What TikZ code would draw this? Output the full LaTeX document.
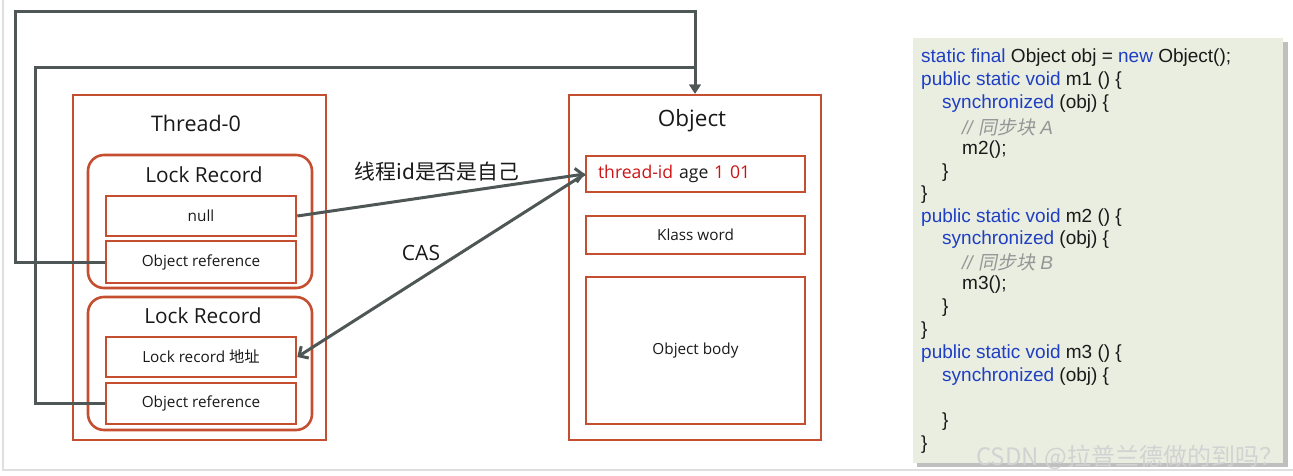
\documentclass[tikz,border=0pt]{standalone}
\usepackage{fontspec}
\setmainfont{Open Sans}
\newfontfamily\cjkfont{Noto Sans CJK SC}
\newfontfamily\cjkslant[FakeSlant=0.2]{Noto Sans CJK SC}
\newfontfamily\codefont{Liberation Sans}
\usetikzlibrary{arrows.meta,positioning}
\definecolor{boxRed}{RGB}{197,78,48}
\definecolor{lineGray}{RGB}{78,86,86}
\definecolor{codeBg}{RGB}{234,238,224}
\definecolor{codeBlue}{RGB}{30,62,196}
\definecolor{codeGray}{RGB}{150,150,150}
\definecolor{idRed}{RGB}{204,20,20}
\definecolor{txtDark}{RGB}{25,25,25}

\tikzset{
  outerbox/.style={draw=boxRed, line width=2.6pt, inner sep=0pt},
  recbox/.style={outerbox, rounded corners=16pt, minimum width=224pt, minimum height=133pt},
  fieldbox/.style={outerbox, minimum width=190pt, minimum height=40pt,
    font=\fontsize{15.3}{17}\selectfont, text=txtDark},
  wordbox/.style={outerbox, minimum width=219pt},
  title/.style={font=\fontsize{20.8}{24}\selectfont, text=txtDark},
  link/.style={draw=lineGray, line width=3pt},
  codeline/.style={anchor=west, inner sep=0pt, font=\codefont\fontsize{19}{22}\selectfont, text=txtDark},
}
\newcommand{\kw}[1]{\textcolor{codeBlue}{#1}}
\newcommand{\cmt}[1]{\textcolor{codeGray}{\itshape #1}}

\begin{document}
\begin{tikzpicture}[x=1pt,y=-1pt]
    \useasboundingbox (0,0) rectangle (1293,476);
    % screenshot frame
    \draw[gray!25, line width=2pt] (3,0) -- (3,470) -- (1293,470);

    % thread side
    \node[outerbox, minimum width=253pt, minimum height=345pt] (thread) at (199.5,267.5) {};
    \node[title, font=\fontsize{21.5}{24}\selectfont] (threadTitle) at (196,123) {Thread-0};

    \node[recbox] (lr1) at (200,221.5) {};
    \node[title] (lr1Title) at (204,175) {Lock Record};
    \node[fieldbox] (null) at (201,216) {null};
    \node[fieldbox, minimum height=42pt] (ref1) at (201,262) {Object reference};

    \node[recbox] (lr2) at (200,363.5) {};
    \node[title] (lr2Title) at (203,316) {Lock Record};
    \node[fieldbox] (addr) at (201,357) {Lock record {\cjkfont 地址}};
    \node[fieldbox, minimum height=41pt] (ref2) at (201,403.5) {Object reference};

    % object side
    \node[outerbox, minimum width=252pt, minimum height=345pt] (object) at (695,267.5) {};
    \node[title, font=\fontsize{22.5}{24}\selectfont] (objTitle) at (692,121) {Object};
    \node[wordbox, minimum height=36pt, text width=195pt, align=left,
          font=\fontsize{17.6}{19}\selectfont, text=txtDark] (tid) at (695.5,174)
          {\textcolor{idRed}{thread-id} age \textcolor{idRed}{1 01}};
    \node[wordbox, minimum height=38pt, font=\fontsize{15.3}{17}\selectfont, text=txtDark] (klass) at (695.5,235) {Klass word};
    \node[wordbox, minimum height=147pt, font=\fontsize{15.3}{17}\selectfont, text=txtDark] (body) at (695.5,350.5) {Object body};

    % connectors
    \draw[link, -{Triangle[length=9pt,width=11pt]}] (ref1.west) -| (15,12) -| (object.north);
    \draw[link, -{Triangle[length=9pt,width=11pt]}] (ref2.west) -| (35,68) -| (object.north);
    \draw[link, -{Straight Barb[length=7pt,width=14pt]}] (null.east) -- (tid.west);
    \draw[link, -{Straight Barb[length=7pt,width=14pt]}] (tid.west) -- (addr.east);
    \node[font=\cjkfont\fontsize{20.8}{24}\selectfont, text=txtDark] (checkLbl) at (437,172) {线程id是否是自己};
    \node[title, font=\fontsize{21}{24}\selectfont] (casLbl) at (421,253) {CAS};

    % code panel
    \fill[black!25] (917,42) rectangle (1288,467);
    \fill[codeBg] (913,38) rectangle (1283,463);
    \node[codeline] (c1) at (921,58) {\kw{static final} Object obj = \kw{new} Object();};
    \node[codeline] (c2) at (921,81) {\kw{public static void} m1 () \{};
    \node[codeline] (c3) at (942,104) {\kw{synchronized} (obj) \{};
    \node[codeline] (c4) at (962,127) {\cmt{// {\cjkslant 同步块} A}};
    \node[codeline] (c5) at (962,149.5) {m2();};
    \node[codeline] (c6) at (942,172.5) {\}};
    \node[codeline] (c7) at (921,195) {\}};
    \node[codeline] (c8) at (921,217.5) {\kw{public static void} m2 () \{};
    \node[codeline] (c9) at (942,240) {\kw{synchronized} (obj) \{};
    \node[codeline] (c10) at (962,262.5) {\cmt{// {\cjkslant 同步块} B}};
    \node[codeline] (c11) at (962,285) {m3();};
    \node[codeline] (c12) at (942,308) {\}};
    \node[codeline] (c13) at (921,331) {\}};
    \node[codeline] (c14) at (921,354) {\kw{public static void} m3 () \{};
    \node[codeline] (c15) at (942,376.5) {\kw{synchronized} (obj) \{};
    \node[codeline] (c17) at (942,422) {\}};
    \node[codeline] (c18) at (921,444.5) {\}};

    % watermark
    \node[anchor=west, inner sep=0pt, text=gray!35, font=\cjkfont\fontsize{24}{27}\selectfont] (mark) at (976,457) {CSDN @拉普兰德做的到吗？};
\end{tikzpicture}
\end{document}
